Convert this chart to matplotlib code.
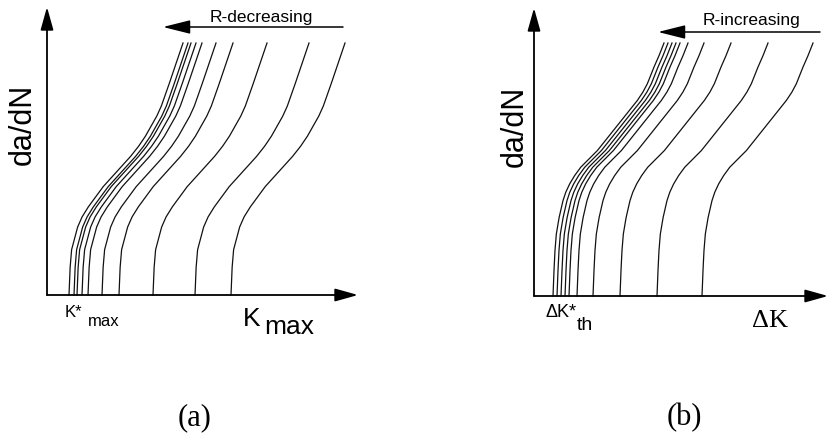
import numpy as np
import matplotlib
matplotlib.use("Agg")
import matplotlib.pyplot as plt

# schematic da/dN curves, one per R value (left = lowest threshold)
# threshold position of each curve on the K axis (units = px from origin)
kmax_start = [22, 27, 30, 35, 41, 55, 72, 106, 148, 184]
kmax_width = 114
dk_start = [19, 23, 27, 31, 35, 43, 59, 86, 123, 168]
dk_width = 111
curve_top_a = 252
curve_top_b = 253

# shape of one curve: fraction of height / fraction of width
shape_t_a = [0.0, 0.11, 0.18, 0.27, 0.31, 0.35, 0.39, 0.43, 0.47, 0.51, 0.55, 0.59,
             0.63, 0.67, 0.71, 0.75, 0.795, 0.84, 0.88, 0.92, 0.96, 1.0]
shape_u_a = [0.0, 0.01, 0.023, 0.076, 0.115, 0.17, 0.235, 0.30, 0.38, 0.46, 0.54, 0.61,
             0.67, 0.72, 0.77, 0.81, 0.845, 0.88, 0.91, 0.94, 0.97, 1.0]
shape_t_b = [0.0, 0.11, 0.18, 0.245, 0.31, 0.377, 0.41, 0.443, 0.476, 0.509, 0.542, 0.575,
             0.608, 0.641, 0.674, 0.707, 0.74, 0.773, 0.806, 0.839, 0.872, 0.905, 0.95, 1.0]
shape_u_b = [0.0, 0.01, 0.018, 0.03, 0.055, 0.09, 0.115, 0.15, 0.195, 0.25, 0.325, 0.40,
             0.46, 0.52, 0.58, 0.64, 0.70, 0.76, 0.81, 0.85, 0.88, 0.91, 0.955, 1.0]

W, H = 830, 436
fig = plt.figure(figsize=(W / 100, H / 100), dpi=100)

sans = "Liberation Sans"
serif = "Liberation Serif"


def make_axes(x0, y0, w, h):
    ax = fig.add_axes([x0 / W, (H - y0) / H, w / W, h / H])
    ax.set_xlim(0, w)
    ax.set_ylim(0, h)
    ax.axis("off")
    head = dict(arrowstyle="-|>,head_length=1.0,head_width=0.28", mutation_scale=14,
                lw=1.3, color="black", shrinkA=0, shrinkB=0)
    ax.annotate("", xy=(w, 0), xytext=(0, 0), arrowprops=head, annotation_clip=False)
    ax.annotate("", xy=(0, h), xytext=(0, 0), arrowprops=head, annotation_clip=False)
    return ax


def draw_curves(ax, starts, width, top, st, su):
    t = np.array(st)
    u = np.array(su)
    for s in starts:
        ax.plot(s + u * width, t * top, color="#111111", lw=0.9, clip_on=False,
                solid_joinstyle="round")


# (a) Kmax
ax1 = make_axes(47, 295, 311, 288)
draw_curves(ax1, kmax_start, kmax_width, curve_top_a, shape_t_a, shape_u_a)
ax1.annotate("", xy=(116, 268), xytext=(296, 268),
             arrowprops=dict(arrowstyle="-|>,head_length=1.2,head_width=0.3", mutation_scale=14,
                             lw=1.1, color="black", shrinkA=0, shrinkB=0), annotation_clip=False)
ax1.text(214, 273, "R-decreasing", family=sans, fontsize=12.5, ha="center", va="baseline")
ax1.text(-24, 171, "da/dN", family=sans, fontsize=22, rotation=90, ha="center", va="center")
ax1.text(18, -22, "K*", family=sans, fontsize=12, ha="left", va="baseline")
ax1.text(41, -31, "max", family=sans, fontsize=12, ha="left", va="baseline")
ax1.text(196, -31, "K", family=sans, fontsize=19, ha="left", va="baseline")
ax1.text(217, -39, "max", family=sans, fontsize=19, ha="left", va="baseline")
ax1.text(148, -123, "(a)", family=serif, fontsize=22, ha="center", va="center")

# (b) delta K
ax2 = make_axes(534, 296, 294, 288)
draw_curves(ax2, dk_start, dk_width, curve_top_b, shape_t_b, shape_u_b)
ax2.annotate("", xy=(124, 264), xytext=(286, 264),
             arrowprops=dict(arrowstyle="-|>,head_length=1.2,head_width=0.3", mutation_scale=14,
                             lw=1.1, color="black", shrinkA=0, shrinkB=0), annotation_clip=False)
ax2.text(217, 271, "R-increasing", family=sans, fontsize=12.5, ha="center", va="baseline")
ax2.text(-19, 170, "da/dN", family=sans, fontsize=22, rotation=90, ha="center", va="center")
ax2.text(11, -21, "\u0394K*", family=sans, fontsize=13, ha="left", va="baseline")
ax2.text(43, -34, "th", family=sans, fontsize=14, ha="left", va="baseline")
ax2.text(218, -31, "\u0394K", family=serif, fontsize=19, ha="left", va="baseline")
ax2.text(150, -122, "(b)", family=serif, fontsize=22, ha="center", va="center")

fig.savefig("out.png", dpi=100, facecolor="white")
